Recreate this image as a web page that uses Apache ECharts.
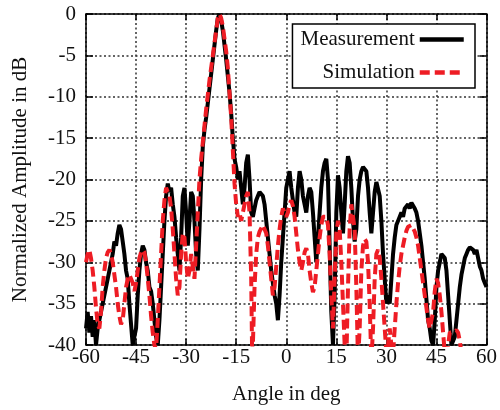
<!DOCTYPE html>
<html>
<head>
<meta charset="utf-8">
<script src="https://cdn.jsdelivr.net/npm/echarts@6/dist/echarts.min.js"></script>
<style>html,body{margin:0;padding:0;background:#fff}#c{width:500px;height:410px}</style>
</head>
<body>
<div id="c"></div>
<script>
const xTicks = [-60, -45, -30, -15, 0, 15, 30, 45, 60];
const yTicks = [0, -5, -10, -15, -20, -25, -30, -35, -40];
const seriesNames = ['Measurement', 'Simulation'];

const measurement = [
[-60,-38],[-59.5,-36],[-59,-38.5],[-58.5,-36.5],[-58,-39],[-57.5,-37],[-57,-40],[-56.5,-38],[-56,-37],[-55.5,-36],[-55,-35],
[-54,-33],[-53,-31],[-52,-29],[-51.5,-27.5],[-51,-28],[-50.5,-26.5],[-50,-25.5],[-49.5,-26],[-49,-27.5],[-48.5,-29],[-48,-31],
[-47.5,-32],[-47,-35],[-46.5,-37.5],[-46,-40],[-45.5,-40],[-45,-38],[-44.5,-34],[-44,-31],[-43.5,-29],[-43,-28],[-42.5,-28.5],
[-42,-30],[-41.5,-31],[-41,-33],[-40.5,-33.5],[-40,-35],[-39.5,-37],[-39,-39],[-38.5,-40],[-38,-37],[-37.5,-33],[-37,-29],
[-36.5,-25],[-36,-22],[-35.5,-20.5],[-35,-21.5],[-34.5,-21],[-34,-23],[-33.5,-24.5],[-33,-27],[-32.5,-29],[-32,-31],[-31.5,-27],
[-31,-22],[-30.5,-21],[-30,-24],[-29.5,-28],[-29,-25],[-28.5,-21.5],[-28,-22],[-27.5,-25],[-27,-29],[-26.5,-31],[-26,-26],
[-25.5,-20],[-25,-16],[-24.5,-14],[-24,-12.5],[-23,-9],[-22,-5.5],[-21,-2],[-20.5,-0.5],[-20,0],[-19.5,-0.8],[-19,-2],[-18,-5.5],
[-17,-9.5],[-16.5,-12],[-16,-15],[-15.5,-17.5],[-15,-18.5],[-14.5,-20],[-14,-19],[-13.5,-21],[-13,-23],[-12.5,-21],[-12,-18],
[-11.5,-17],[-11,-20],[-10.5,-24],[-10,-24.5],[-9.5,-23.5],[-9,-22.5],[-8.5,-22],[-8,-21.5],[-7.5,-21.5],[-7,-22],[-6.5,-23],
[-6,-25],[-5.5,-27],[-5,-29],[-4.5,-31],[-4,-32.5],[-3.5,-34],[-3,-35],[-2.5,-37],[-2,-34],[-1.5,-30],[-1,-27],[-0.5,-24],
[0,-21],[0.5,-20],[1,-19],[1.5,-21],[2,-22.5],[2.5,-24],[3,-24.5],[3.5,-21],[4,-19],[4.5,-20],[5,-22],[5.5,-23],[6,-24],
[6.5,-22],[7,-21],[7.5,-21.5],[8,-24],[8.5,-27],[9,-30],[9.5,-27],[10,-24],[10.5,-21],[11,-19],[11.5,-18],[12,-17.5],
[12.5,-20],[13,-28],[13.5,-36],[14,-40],[14.5,-34],[15,-24],[15.5,-19.5],[16,-21],[16.5,-24],[17,-26.5],[17.5,-23],[18,-19],
[18.5,-17.2],[19,-18],[19.5,-21],[20,-25],[20.5,-27.5],[21,-26],[21.5,-22],[22,-20],[22.5,-19],[23,-18.5],[23.5,-18.3],
[24,-19],[24.5,-21],[25,-24],[25.5,-26.5],[26,-24],[26.5,-21.5],[27,-20.3],[27.5,-20.5],[28,-22],[28.5,-25],[29,-29],
[29.5,-32],[30,-35],[30.5,-34],[31,-35],[31.5,-32],[32,-29],[32.5,-27],[33,-25.5],[33.5,-25],[34,-24.5],[34.5,-24],
[35,-24.5],[35.5,-23.5],[36,-23.5],[36.5,-23],[37,-23.5],[37.5,-22.8],[38,-23],[38.5,-23.5],[39,-24],[39.5,-25],[40,-26.5],
[40.5,-28],[41,-30],[41.5,-32],[42,-34.5],[42.5,-37],[43,-38],[43.5,-39.5],[44,-40],[44.5,-37],[45,-33],[45.5,-31],[46,-30],
[46.5,-29],[47,-28.8],[47.5,-29.5],[48,-31],[48.5,-34],[49,-37],[49.5,-40],[50,-40],[50.5,-39],[51,-37],[51.5,-35],[52,-33],
[52.5,-31.5],[53,-30.5],[53.5,-29.5],[54,-29],[54.5,-28.5],[55,-28.2],[55.5,-28],[56,-28.5],[56.5,-29],[57,-28.5],
[57.5,-29.5],[58,-30.5],[58.5,-31],[59,-32],[59.5,-32.5],[60,-33]
];

const simulation = [
[-60,-30],[-59.5,-29],[-59,-28.5],[-58.5,-29.5],[-58,-31],[-57.5,-33],[-57,-35.5],[-56.5,-37.5],[-56,-38],[-55.5,-36],
[-55,-33],[-54.5,-31],[-54,-29.5],[-53.5,-28.8],[-53,-28.5],[-52.5,-29],[-52,-30],[-51.5,-31.5],[-51,-33],[-50.5,-35],
[-50,-36.5],[-49.5,-37.5],[-49,-37],[-48.5,-35],[-48,-33],[-47.5,-32],[-47,-31.5],[-46.5,-31.5],[-46,-32.5],[-45.5,-33.5],
[-45,-32.5],[-44.5,-31],[-44,-29.5],[-43.5,-28.8],[-43,-28.5],[-42.5,-28.8],[-42,-30],[-41.5,-32],[-41,-34],[-40.5,-36.5],
[-40,-38.5],[-39.5,-40],[-39,-40.5],[-38.5,-37],[-38,-33],[-37.5,-29],[-37,-25],[-36.5,-22.5],[-36,-21],[-35.5,-21],
[-35,-22],[-34.5,-23.5],[-34,-26],[-33.5,-29],[-33,-32],[-32.5,-34],[-32,-33],[-31.5,-29],[-31,-26.5],[-30.5,-27],[-30,-30],
[-29.5,-32],[-29,-31],[-28.5,-29],[-28,-30.5],[-27.5,-32],[-27,-28],[-26.5,-24],[-26,-20],[-25.5,-17.5],[-25,-15.5],
[-24,-11.5],[-23,-8],[-22,-5],[-21,-2],[-20.5,-0.5],[-20,0],[-19.5,-0.5],[-19,-1.5],[-18,-4.5],[-17.5,-6.5],[-17,-9.5],
[-16.5,-12.5],[-16,-16.5],[-15.5,-20.5],[-15,-23],[-14.5,-24.5],[-14,-24],[-13.5,-25],[-13,-24],[-12,-22],[-11.5,-21.5],
[-11,-24],[-10.5,-32],[-10.2,-42],[-10,-40],[-9.5,-33],[-9,-29],[-8.5,-27],[-8,-26.3],[-7,-25.5],[-6.5,-25.5],[-6,-26.5],
[-5.5,-28],[-5,-30],[-4.5,-32],[-4,-34],[-3.5,-33],[-3,-30.5],[-2.5,-28],[-2,-26],[-1.5,-24.5],[-1,-23.5],[-0.5,-23.5],
[0,-24.5],[0.5,-24],[1,-23],[1.5,-22.5],[2,-23.2],[2.5,-24.5],[3,-26.5],[3.5,-28.5],[4,-30],[4.5,-31],[5,-30],[5.5,-28.8],
[6,-28.3],[6.5,-29],[7,-31],[7.5,-32.5],[8,-33.6],[8.5,-33],[9,-31],[9.5,-29],[10,-27],[10.5,-25.5],[11,-24.5],[11.5,-24.3],
[12,-24.5],[12.5,-25.5],[13,-29],[13.5,-34],[14,-38],[14.5,-32],[15,-26.5],[15.5,-25],[16,-26],[16.5,-30],[17,-35],
[17.5,-40],[18,-42],[18.5,-33],[19,-26],[19.5,-23],[20,-22.8],[20.5,-26],[21,-33],[21.5,-42],[22,-38],[22.5,-31],[23,-28],
[23.5,-27.2],[24,-27.5],[24.5,-30],[25,-35],[25.5,-42],[26,-38],[26.5,-32],[27,-29],[27.5,-28.5],[28,-29.5],[28.5,-32],
[29,-35],[29.5,-38],[30,-41],[30.5,-40],[31,-38],[31.5,-40],[32,-41],[32.5,-38],[33,-35],[33.5,-32.5],[34,-30.5],[34.5,-29],
[35,-28],[35.5,-27],[36,-26.2],[36.5,-25.7],[37,-25.5],[37.5,-25.5],[38,-25.7],[38.5,-26.3],[39,-27],[39.5,-28],[40,-29.5],
[40.5,-31],[41,-32.5],[41.5,-34],[42,-35.5],[42.5,-37],[43,-38],[43.5,-38],[44,-36],[44.5,-33.5],[45,-32],[45.5,-32.5],
[46,-34],[46.5,-36],[47,-38.5],[47.5,-41],[48,-42],[48.5,-40],[49,-38.5],[49.5,-38.3],[50,-38.5],[50.5,-38.3],[51,-38.2],
[51.5,-38.5],[52,-39.5],[52.5,-41],[53,-43],[54,-44],[60,-45]
];

const FONT = "'Liberation Serif', 'Times New Roman', serif";
const chart = echarts.init(document.getElementById('c'), null, {renderer: 'canvas'});

const baseX = {
  type: 'value', min: xTicks[0], max: xTicks[xTicks.length - 1], interval: 15,
  axisLine: {show: true, onZero: false, lineStyle: {color: '#000', width: 1.5}},
  axisTick: {show: true, inside: true, length: 6, lineStyle: {color: '#000', width: 1.5}},
};
const baseY = {
  type: 'value', min: yTicks[yTicks.length - 1], max: yTicks[0], interval: 5,
  axisLine: {show: true, onZero: false, lineStyle: {color: '#000', width: 1.5}},
  axisTick: {show: true, inside: true, length: 7, lineStyle: {color: '#000', width: 1.5}},
};

chart.setOption({
  animation: false,
  backgroundColor: '#fff',
  textStyle: {fontFamily: FONT},
  grid: {left: 86, right: 13, top: 14, bottom: 63, containLabel: false},
  legend: {
    data: seriesNames,
    orient: 'vertical',
    align: 'right',
    right: 25, top: 24,
    itemWidth: 44, itemHeight: 14, itemGap: 12,
    padding: [5, 9, 5, 8],
    backgroundColor: '#fff',
    borderColor: '#000', borderWidth: 1.5, borderRadius: 0,
    itemStyle: {opacity: 0},
    lineStyle: {width: 4.5},
    textStyle: {fontFamily: FONT, fontSize: 21, color: '#111'}
  },
  xAxis: [
    Object.assign({}, baseX, {
      position: 'bottom',
      name: 'Angle in deg', nameLocation: 'middle', nameGap: 39,
      nameTextStyle: {fontFamily: FONT, fontSize: 21, color: '#111'},
      axisLabel: {fontFamily: FONT, fontSize: 21, color: '#111', margin: 2},
      splitLine: {show: true, lineStyle: {color: '#333', width: 1.5, type: [2, 2.5]}}
    }),
    Object.assign({}, baseX, {position: 'top', axisLabel: {show: false}, splitLine: {show: false}})
  ],
  yAxis: [
    Object.assign({}, baseY, {
      position: 'left',
      name: 'Normalized Amplitude in dB', nameLocation: 'middle', nameGap: 55,
      nameTextStyle: {fontFamily: FONT, fontSize: 21, color: '#111'},
      axisLabel: {fontFamily: FONT, fontSize: 21, color: '#111', margin: 10},
      splitLine: {show: true, lineStyle: {color: '#333', width: 1.5, type: [2, 2.5]}}
    }),
    Object.assign({}, baseY, {position: 'right', axisLabel: {show: false}, splitLine: {show: false}})
  ],
  series: [
    {
      name: seriesNames[0], type: 'line', xAxisIndex: 0, yAxisIndex: 0,
      data: measurement, symbol: 'none', showSymbol: false, clip: true,
      lineStyle: {color: '#000', width: 4}, itemStyle: {color: '#000'}, z: 3
    },
    {
      name: seriesNames[1], type: 'line', xAxisIndex: 0, yAxisIndex: 0,
      data: simulation, symbol: 'none', showSymbol: false, clip: true,
      lineStyle: {color: '#ee1c24', width: 4, type: [10, 5]}, itemStyle: {color: '#ee1c24'}, z: 4
    }
  ]
});
</script>
</body>
</html>
